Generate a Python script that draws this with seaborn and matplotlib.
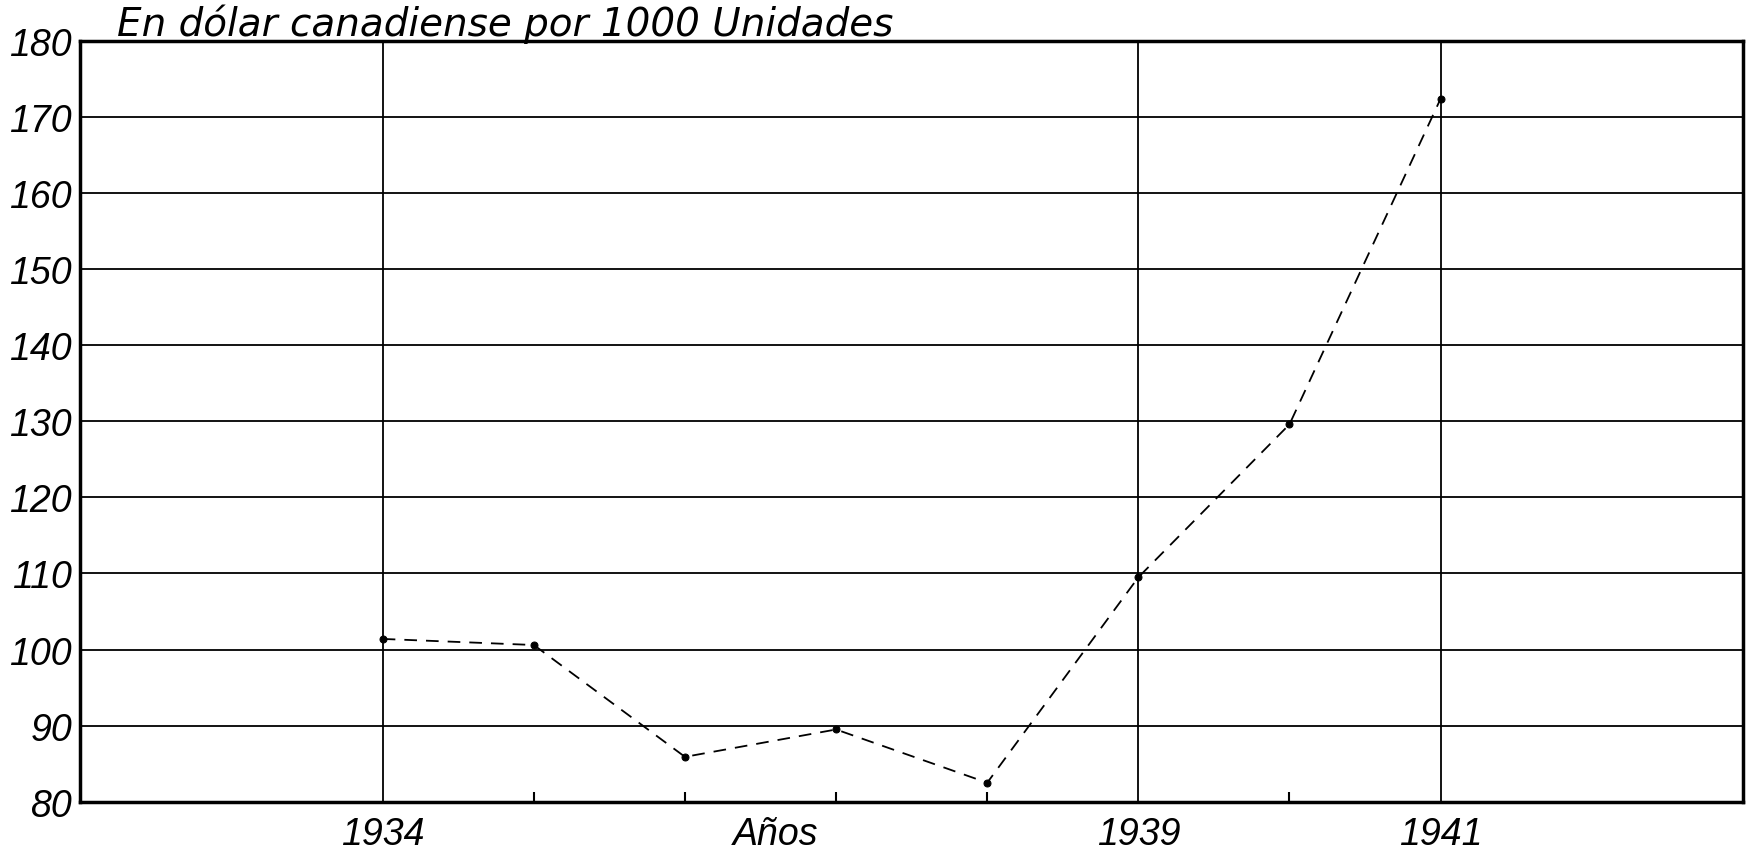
import numpy as np
import pandas as pd
import matplotlib
matplotlib.use('Agg')
import matplotlib.pyplot as plt
import seaborn as sns

# data
years = [1934, 1935, 1936, 1937, 1938, 1939, 1940, 1941]
values = [101.4, 100.6, 85.9, 89.5, 82.5, 109.5, 129.6, 172.4]
y_ticks = [80, 90, 100, 110, 120, 130, 140, 150, 160, 170, 180]
x_grid_years = [1934, 1939, 1941]
x_label_pos = [1934, 1936.6, 1939, 1941]
x_labels = ['1934', 'Años', '1939', '1941']
title = 'En dólar canadiense por 1000 Unidades'


def main():
    sns.set_theme(style='white')
    plt.rcParams['font.family'] = ['Liberation Sans', 'DejaVu Sans']
    plt.rcParams['font.style'] = 'italic'
    plt.rcParams['text.color'] = 'black'
    plt.rcParams['xtick.color'] = 'black'
    plt.rcParams['ytick.color'] = 'black'

    df = pd.DataFrame({'year': years, 'value': values})

    fig = plt.figure(figsize=(17.49, 8.54), dpi=100)
    ax = fig.add_axes([0.046, 0.06, 0.9505, 0.891])

    for y in y_ticks[1:-1]:
        ax.axhline(y, color='black', lw=1.3, zorder=1)
    for x in x_grid_years:
        ax.axvline(x, color='black', lw=1.3, zorder=1)

    sns.lineplot(data=df, x='year', y='value', ax=ax, color='black',
                 linestyle=(0, (7, 5)), lw=1.3, marker='o', markersize=5,
                 markeredgecolor='black', zorder=3)

    ax.set_xlim(1932, 1943)
    ax.set_ylim(80, 180)
    ax.set_yticks(y_ticks)
    ax.set_yticklabels([str(v) for v in y_ticks], fontsize=27)
    ax.tick_params(axis='y', length=0, pad=6)

    # small year ticks along the bottom
    ax.set_xticks(years, minor=True)
    ax.tick_params(axis='x', which='minor', direction='in', length=7, width=1.5, color='black', bottom=True)
    ax.set_xticks(x_label_pos)
    ax.set_xticklabels(x_labels, fontsize=27)
    ax.tick_params(axis='x', which='major', length=0, pad=10)

    ax.set_xlabel('')
    ax.set_ylabel('')
    for s in ax.spines.values():
        s.set_visible(True)
        s.set_color('black')
        s.set_linewidth(2.5)

    fig.text(0.067, 0.972, title, fontsize=28, ha='left', va='center',
             family='DejaVu Sans', style='italic')

    fig.savefig('out.png', dpi=100, facecolor='white')
    plt.close(fig)


if __name__ == '__main__':
    main()
